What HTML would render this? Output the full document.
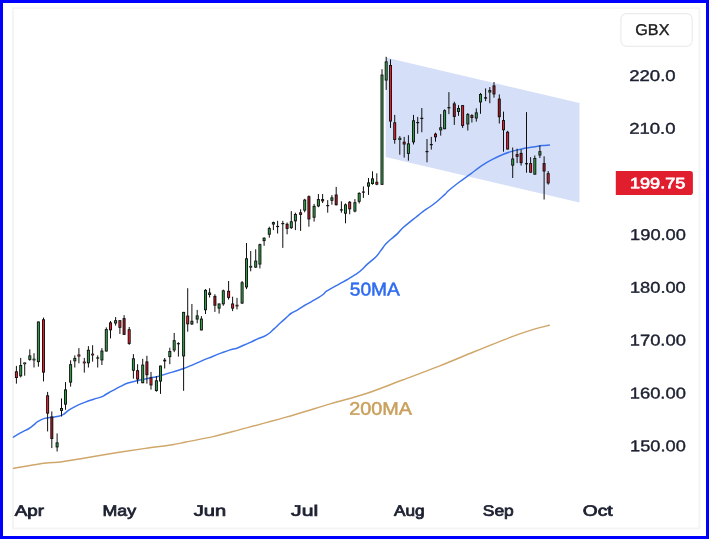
<!DOCTYPE html>
<html><head><meta charset="utf-8"><title>Chart</title>
<style>html,body{margin:0;padding:0;background:#fff;width:709px;height:539px;overflow:hidden;font-family:"Liberation Sans",sans-serif}</style></head>
<body>
<svg width="709" height="539" viewBox="0 0 709 539" style="display:block;position:absolute;left:0;top:0" font-family="Liberation Sans, sans-serif">
<rect x="0" y="0" width="709" height="539" fill="#ffffff"/>
<rect x="12.9" y="8.15" width="686.5" height="520.3" fill="none" stroke="#f4f4f4" stroke-width="1.9"/>
<polygon points="385.7,57.5 579.5,103.0 579.5,202.5 385.7,157" fill="#d5dff8"/>
<path d="M13.4,468.4 C18.5,467.5 36.0,464.4 43.9,463.3 C51.8,462.2 55.2,462.7 60.8,462.0 C66.4,461.3 69.2,460.6 77.7,459.2 C86.2,457.8 100.3,455.3 111.6,453.5 C122.9,451.7 135.2,449.9 145.4,448.4 C155.6,446.9 165.7,445.8 172.5,444.7 C179.3,443.6 179.2,443.4 186.0,442.0 C192.8,440.6 204.1,438.7 213.1,436.6 C222.1,434.5 228.0,432.8 240.0,429.6 C252.0,426.4 270.1,421.7 285.1,417.4 C300.2,413.1 316.8,407.9 330.3,403.9 C343.9,399.9 354.4,397.5 366.4,393.5 C378.4,389.5 390.5,384.5 402.5,380.0 C414.5,375.5 426.6,371.1 438.6,366.4 C450.6,361.6 462.7,356.4 474.7,351.5 C486.7,346.6 501.0,340.8 510.8,337.1 C520.6,333.4 527.0,331.4 533.4,329.4 C539.8,327.4 546.6,326.0 549.2,325.3" fill="none" stroke="#cfa76a" stroke-width="1.45" stroke-linejoin="round" stroke-linecap="round"/>
<path d="M13.4,437.1 C14.8,436.3 18.9,433.8 21.5,432.4 C24.1,431.0 27.0,429.7 29.0,428.5 C31.0,427.3 32.1,426.3 33.5,425.2 C34.9,424.1 35.8,422.8 37.6,421.7 C39.4,420.6 42.0,419.1 44.4,418.4 C46.8,417.6 49.6,417.5 52.0,417.2 C54.4,416.9 56.9,416.8 58.8,416.3 C60.7,415.8 61.9,415.4 63.5,414.4 C65.1,413.4 66.3,411.9 68.5,410.4 C70.7,408.9 74.1,407.0 76.9,405.6 C79.7,404.2 82.6,403.2 85.4,402.1 C88.2,401.0 91.1,400.1 93.8,399.2 C96.5,398.3 99.5,397.7 101.5,396.9 C103.5,396.1 103.9,395.5 105.7,394.5 C107.5,393.5 110.1,392.0 112.5,390.7 C114.9,389.4 117.4,388.0 120.0,386.7 C122.6,385.4 125.0,384.0 128.0,383.0 C131.0,382.0 134.7,381.3 138.0,380.5 C141.3,379.7 144.7,379.1 148.0,378.4 C151.3,377.7 154.7,377.2 158.0,376.4 C161.3,375.6 163.7,374.7 168.0,373.4 C172.3,372.1 178.1,370.6 183.6,368.5 C189.1,366.4 196.5,363.1 201.2,361.1 C205.9,359.1 208.6,358.1 212.0,356.7 C215.4,355.3 218.6,354.0 221.6,352.9 C224.6,351.8 227.5,350.7 230.0,349.9 C232.5,349.1 234.6,349.0 236.8,348.2 C239.1,347.4 241.2,346.3 243.5,345.3 C245.8,344.3 248.0,343.4 250.3,342.4 C252.6,341.4 254.8,340.1 257.1,339.1 C259.4,338.1 261.9,337.4 263.9,336.5 C265.9,335.6 267.2,334.8 268.9,333.5 C270.6,332.2 272.0,330.7 274.0,328.9 C276.0,327.1 278.5,324.6 280.8,322.5 C283.1,320.4 285.9,318.0 287.6,316.5 C289.3,315.0 289.2,314.6 290.9,313.5 C292.6,312.4 295.4,311.1 297.7,309.8 C300.0,308.5 302.2,306.8 304.5,305.5 C306.8,304.2 308.9,303.1 311.2,301.8 C313.4,300.5 316.0,299.1 318.0,297.9 C320.0,296.7 321.7,295.6 323.1,294.5 C324.5,293.4 324.5,292.6 326.5,291.2 C328.5,289.8 332.4,287.8 334.9,286.4 C337.4,285.0 339.4,284.0 341.7,282.7 C344.0,281.4 346.0,280.3 348.5,278.8 C351.0,277.3 354.6,275.2 356.9,273.7 C359.1,272.1 360.3,271.1 362.0,269.5 C363.7,267.9 364.9,266.4 367.1,264.4 C369.4,262.4 373.2,259.6 375.5,257.3 C377.8,255.1 378.9,253.1 380.6,250.9 C382.3,248.7 384.0,246.0 385.7,244.1 C387.4,242.2 388.8,241.1 390.8,239.3 C392.8,237.6 395.5,235.5 397.5,233.6 C399.5,231.7 400.6,229.9 402.6,228.0 C404.6,226.1 407.1,224.2 409.4,222.4 C411.7,220.6 413.9,218.8 416.2,217.0 C418.4,215.2 420.6,213.3 422.9,211.6 C425.1,209.9 427.3,208.7 429.7,207.0 C432.1,205.3 434.8,203.3 437.3,201.2 C439.8,199.1 443.0,196.1 444.9,194.4 C446.8,192.7 446.0,192.9 448.4,190.8 C450.8,188.7 455.7,184.8 459.4,182.0 C463.1,179.2 466.7,176.8 470.4,174.1 C474.1,171.4 477.7,168.2 481.4,165.8 C485.1,163.4 488.7,161.3 492.4,159.4 C496.1,157.5 500.0,155.6 503.4,154.2 C506.8,152.8 509.5,152.0 512.6,151.1 C515.7,150.2 518.4,149.6 521.8,148.9 C525.2,148.2 529.4,147.7 532.8,147.1 C536.2,146.5 539.2,145.9 542.0,145.6 C544.8,145.3 548.2,145.2 549.4,145.1" fill="none" stroke="#3b73ee" stroke-width="1.5" stroke-linejoin="round" stroke-linecap="round"/>
<rect x="15.9" y="365.9" width="1" height="17.7" fill="#101010"/><rect x="14.9" y="371.3" width="3" height="6.7" fill="#101010"/><rect x="15.78" y="372.2" width="1.24" height="4.9" fill="#e01e2d"/>
<rect x="20.2" y="357.9" width="1" height="19.5" fill="#101010"/><rect x="19.2" y="365.0" width="3" height="11.3" fill="#101010"/><rect x="20.08" y="365.9" width="1.24" height="9.5" fill="#2f9a45"/>
<rect x="24.2" y="362.5" width="1" height="13.2" fill="#101010"/><rect x="23.2" y="362.5" width="3" height="1.7" fill="#101010"/><rect x="24.2" y="362.9" width="1" height="0.9" fill="#2f9a45"/>
<rect x="29.3" y="349.3" width="1" height="11.5" fill="#101010"/><rect x="28.3" y="355.4" width="3" height="4.5" fill="#101010"/><rect x="29.18" y="356.3" width="1.24" height="2.7" fill="#2f9a45"/>
<rect x="33.5" y="353.2" width="1" height="14.3" fill="#101010"/><rect x="32.5" y="358.7" width="3" height="1.7" fill="#101010"/><rect x="33.5" y="359.1" width="1" height="0.9" fill="#2f9a45"/>
<rect x="37.9" y="321.5" width="1" height="45.2" fill="#101010"/><rect x="36.9" y="321.5" width="3" height="40.6" fill="#101010"/><rect x="37.78" y="322.4" width="1.24" height="38.8" fill="#2f9a45"/>
<rect x="43.0" y="317.6" width="1" height="63.8" fill="#101010"/><rect x="42.0" y="319.3" width="3" height="53.3" fill="#101010"/><rect x="42.88" y="320.2" width="1.24" height="51.5" fill="#e01e2d"/>
<rect x="47.1" y="391.9" width="1" height="39.5" fill="#101010"/><rect x="46.1" y="395.3" width="3" height="18.3" fill="#101010"/><rect x="46.98" y="396.2" width="1.24" height="16.5" fill="#e01e2d"/>
<rect x="51.3" y="411.4" width="1" height="36.7" fill="#101010"/><rect x="50.3" y="416.5" width="3" height="22.5" fill="#101010"/><rect x="51.18" y="417.4" width="1.24" height="20.7" fill="#a5161f"/>
<rect x="56.6" y="433.4" width="1" height="18.1" fill="#101010"/><rect x="55.6" y="442.4" width="3" height="5.0" fill="#101010"/><rect x="56.48" y="443.3" width="1.24" height="3.2" fill="#2f9a45"/>
<rect x="61.0" y="398.4" width="1" height="18.1" fill="#101010"/><rect x="60.0" y="408.0" width="3" height="2.9" fill="#101010"/><rect x="60.88" y="408.9" width="1.24" height="1.1" fill="#2f9a45"/>
<rect x="65.0" y="382.1" width="1" height="27.6" fill="#101010"/><rect x="64.0" y="389.4" width="3" height="15.2" fill="#101010"/><rect x="64.88" y="390.3" width="1.24" height="13.4" fill="#2f9a45"/>
<rect x="70.1" y="360.3" width="1" height="26.3" fill="#101010"/><rect x="69.1" y="364.2" width="3" height="18.4" fill="#101010"/><rect x="69.98" y="365.1" width="1.24" height="16.6" fill="#2f9a45"/>
<rect x="74.3" y="355.4" width="1" height="12.1" fill="#101010"/><rect x="73.3" y="357.9" width="3" height="3.4" fill="#101010"/><rect x="74.18" y="358.8" width="1.24" height="1.6" fill="#2f9a45"/>
<rect x="78.4" y="348.1" width="1" height="15.2" fill="#101010"/><rect x="77.4" y="354.5" width="3" height="2.0" fill="#101010"/><rect x="78.4" y="354.9" width="1" height="1.2" fill="#e01e2d"/>
<rect x="83.8" y="357.9" width="1" height="14.7" fill="#101010"/><rect x="82.8" y="361.6" width="3" height="1.7" fill="#101010"/><rect x="83.8" y="362.0" width="1" height="0.9" fill="#e01e2d"/>
<rect x="87.9" y="346.1" width="1" height="21.4" fill="#101010"/><rect x="86.9" y="349.8" width="3" height="13.5" fill="#101010"/><rect x="87.78" y="350.7" width="1.24" height="11.7" fill="#2f9a45"/>
<rect x="92.1" y="345.2" width="1" height="16.4" fill="#101010"/><rect x="91.1" y="353.7" width="3" height="1.7" fill="#101010"/><rect x="92.1" y="354.1" width="1" height="0.9" fill="#e01e2d"/>
<rect x="97.2" y="355.4" width="1" height="12.1" fill="#101010"/><rect x="96.2" y="357.4" width="3" height="1.2" fill="#101010"/>
<rect x="101.4" y="348.1" width="1" height="16.9" fill="#101010"/><rect x="100.4" y="350.6" width="3" height="9.8" fill="#101010"/><rect x="101.28" y="351.5" width="1.24" height="8.0" fill="#2f9a45"/>
<rect x="105.8" y="327.4" width="1" height="24.1" fill="#101010"/><rect x="104.8" y="329.1" width="3" height="22.4" fill="#101010"/><rect x="105.68" y="330.0" width="1.24" height="20.6" fill="#2f9a45"/>
<rect x="110.0" y="321.0" width="1" height="17.4" fill="#101010"/><rect x="109.0" y="322.4" width="3" height="7.9" fill="#101010"/><rect x="109.88" y="323.3" width="1.24" height="6.1" fill="#e01e2d"/>
<rect x="115.1" y="317.1" width="1" height="8.5" fill="#101010"/><rect x="114.1" y="320.2" width="3" height="3.3" fill="#101010"/><rect x="114.98" y="321.1" width="1.24" height="1.5" fill="#2f9a45"/>
<rect x="119.4" y="320.2" width="1" height="13.8" fill="#101010"/><rect x="118.4" y="320.2" width="3" height="7.6" fill="#101010"/><rect x="119.28" y="321.1" width="1.24" height="5.8" fill="#e01e2d"/>
<rect x="123.6" y="315.2" width="1" height="19.8" fill="#101010"/><rect x="122.6" y="318.1" width="3" height="16.7" fill="#101010"/><rect x="123.48" y="319.0" width="1.24" height="14.9" fill="#a5161f"/>
<rect x="128.7" y="327.0" width="1" height="17.8" fill="#101010"/><rect x="127.7" y="329.2" width="3" height="14.7" fill="#101010"/><rect x="128.58" y="330.1" width="1.24" height="12.9" fill="#e01e2d"/>
<rect x="132.9" y="354.1" width="1" height="24.5" fill="#101010"/><rect x="131.9" y="358.3" width="3" height="12.4" fill="#101010"/><rect x="132.78" y="359.2" width="1.24" height="10.6" fill="#2f9a45"/>
<rect x="137.1" y="364.2" width="1" height="19.5" fill="#101010"/><rect x="136.1" y="370.2" width="3" height="9.3" fill="#101010"/><rect x="136.98" y="371.1" width="1.24" height="7.5" fill="#e01e2d"/>
<rect x="142.2" y="358.8" width="1" height="24.4" fill="#101010"/><rect x="141.2" y="364.6" width="3" height="18.6" fill="#101010"/><rect x="142.08" y="365.5" width="1.24" height="16.8" fill="#2f9a45"/>
<rect x="146.4" y="355.8" width="1" height="27.9" fill="#101010"/><rect x="145.4" y="361.4" width="3" height="13.8" fill="#101010"/><rect x="146.28" y="362.3" width="1.24" height="12.0" fill="#a5161f"/>
<rect x="150.5" y="371.9" width="1" height="17.7" fill="#101010"/><rect x="149.5" y="377.4" width="3" height="8.0" fill="#101010"/><rect x="150.38" y="378.3" width="1.24" height="6.2" fill="#e01e2d"/>
<rect x="155.9" y="376.1" width="1" height="15.6" fill="#101010"/><rect x="154.9" y="380.3" width="3" height="10.7" fill="#101010"/><rect x="155.78" y="381.2" width="1.24" height="8.9" fill="#2f9a45"/>
<rect x="160.0" y="365.6" width="1" height="28.3" fill="#101010"/><rect x="159.0" y="365.6" width="3" height="15.9" fill="#101010"/><rect x="159.88" y="366.5" width="1.24" height="14.1" fill="#2f9a45"/>
<rect x="164.2" y="358.0" width="1" height="10.5" fill="#101010"/><rect x="163.2" y="359.7" width="3" height="1.7" fill="#101010"/>
<rect x="169.3" y="347.7" width="1" height="16.5" fill="#101010"/><rect x="168.3" y="351.0" width="3" height="6.1" fill="#101010"/><rect x="169.18" y="351.9" width="1.24" height="4.3" fill="#2f9a45"/>
<rect x="173.7" y="332.9" width="1" height="19.2" fill="#101010"/><rect x="172.7" y="340.2" width="3" height="10.2" fill="#101010"/><rect x="173.58" y="341.1" width="1.24" height="8.4" fill="#2f9a45"/>
<rect x="177.9" y="342.2" width="1" height="14.4" fill="#101010"/><rect x="176.9" y="343.1" width="3" height="1.2" fill="#101010"/>
<rect x="183.1" y="311.9" width="1" height="78.9" fill="#101010"/><rect x="182.1" y="311.9" width="3" height="44.5" fill="#101010"/><rect x="182.98" y="312.8" width="1.24" height="42.7" fill="#2f9a45"/>
<rect x="187.2" y="288.2" width="1" height="43.5" fill="#101010"/><rect x="186.2" y="315.6" width="3" height="8.7" fill="#101010"/><rect x="187.08" y="316.5" width="1.24" height="6.9" fill="#e01e2d"/>
<rect x="191.4" y="304.0" width="1" height="21.0" fill="#101010"/><rect x="190.4" y="320.8" width="3" height="3.6" fill="#101010"/><rect x="191.28" y="321.7" width="1.24" height="1.8" fill="#2f9a45"/>
<rect x="196.7" y="309.9" width="1" height="13.4" fill="#101010"/><rect x="195.7" y="315.4" width="3" height="4.1" fill="#101010"/><rect x="196.58" y="316.3" width="1.24" height="2.3" fill="#2f9a45"/>
<rect x="200.9" y="316.1" width="1" height="14.3" fill="#101010"/><rect x="199.9" y="318.6" width="3" height="11.8" fill="#101010"/><rect x="200.78" y="319.5" width="1.24" height="10.0" fill="#2f9a45"/>
<rect x="205.0" y="289.1" width="1" height="24.9" fill="#101010"/><rect x="204.0" y="289.9" width="3" height="20.3" fill="#101010"/><rect x="204.88" y="290.8" width="1.24" height="18.5" fill="#2f9a45"/>
<rect x="209.1" y="288.2" width="1" height="9.3" fill="#101010"/><rect x="208.1" y="292.5" width="3" height="2.5" fill="#101010"/><rect x="208.98" y="293.4" width="1.24" height="0.7" fill="#2f9a45"/>
<rect x="214.4" y="294.2" width="1" height="17.7" fill="#101010"/><rect x="213.4" y="295.9" width="3" height="9.8" fill="#101010"/><rect x="214.28" y="296.8" width="1.24" height="8.0" fill="#a5161f"/>
<rect x="218.6" y="303.5" width="1" height="10.1" fill="#101010"/><rect x="217.6" y="303.5" width="3" height="5.1" fill="#101010"/><rect x="218.48" y="304.4" width="1.24" height="3.3" fill="#2f9a45"/>
<rect x="222.8" y="289.6" width="1" height="16.1" fill="#101010"/><rect x="221.8" y="290.4" width="3" height="13.9" fill="#101010"/><rect x="222.68" y="291.3" width="1.24" height="12.1" fill="#2f9a45"/>
<rect x="228.1" y="281.0" width="1" height="18.6" fill="#101010"/><rect x="227.1" y="290.8" width="3" height="7.1" fill="#101010"/><rect x="227.98" y="291.7" width="1.24" height="5.3" fill="#e01e2d"/>
<rect x="232.1" y="296.7" width="1" height="14.4" fill="#101010"/><rect x="231.1" y="303.5" width="3" height="5.1" fill="#101010"/><rect x="231.98" y="304.4" width="1.24" height="3.3" fill="#e01e2d"/>
<rect x="236.5" y="297.9" width="1" height="11.5" fill="#101010"/><rect x="235.5" y="304.8" width="3" height="1.6" fill="#101010"/><rect x="236.5" y="305.2" width="1" height="0.8" fill="#e01e2d"/>
<rect x="241.6" y="281.0" width="1" height="23.0" fill="#101010"/><rect x="240.6" y="282.3" width="3" height="21.2" fill="#101010"/><rect x="241.48" y="283.2" width="1.24" height="19.4" fill="#2f9a45"/>
<rect x="246.0" y="243.0" width="1" height="46.1" fill="#101010"/><rect x="245.0" y="258.3" width="3" height="29.1" fill="#101010"/><rect x="245.88" y="259.2" width="1.24" height="27.3" fill="#2f9a45"/>
<rect x="250.2" y="251.0" width="1" height="20.3" fill="#101010"/><rect x="249.2" y="265.9" width="3" height="1.7" fill="#101010"/><rect x="250.2" y="266.3" width="1" height="0.9" fill="#2f9a45"/>
<rect x="255.2" y="249.3" width="1" height="18.6" fill="#101010"/><rect x="254.2" y="260.6" width="3" height="7.0" fill="#101010"/><rect x="255.08" y="261.5" width="1.24" height="5.2" fill="#2f9a45"/>
<rect x="259.4" y="243.7" width="1" height="24.7" fill="#101010"/><rect x="258.4" y="244.2" width="3" height="20.3" fill="#101010"/><rect x="259.28" y="245.1" width="1.24" height="18.5" fill="#2f9a45"/>
<rect x="263.6" y="237.4" width="1" height="8.4" fill="#101010"/><rect x="262.6" y="237.7" width="3" height="3.4" fill="#101010"/><rect x="263.48" y="238.6" width="1.24" height="1.6" fill="#2f9a45"/>
<rect x="268.8" y="226.7" width="1" height="11.0" fill="#101010"/><rect x="267.8" y="228.1" width="3" height="6.6" fill="#101010"/><rect x="268.68" y="229.0" width="1.24" height="4.8" fill="#2f9a45"/>
<rect x="272.9" y="221.6" width="1" height="8.5" fill="#101010"/><rect x="271.9" y="222.1" width="3" height="2.4" fill="#101010"/><rect x="272.78" y="223.0" width="1.24" height="0.6" fill="#2f9a45"/>
<rect x="277.1" y="220.8" width="1" height="12.7" fill="#101010"/><rect x="276.1" y="225.9" width="3" height="1.2" fill="#101010"/>
<rect x="282.3" y="220.8" width="1" height="27.1" fill="#101010"/><rect x="281.3" y="223.0" width="3" height="1.2" fill="#101010"/>
<rect x="286.6" y="222.5" width="1" height="11.8" fill="#101010"/><rect x="285.6" y="223.8" width="3" height="5.1" fill="#101010"/><rect x="286.48" y="224.7" width="1.24" height="3.3" fill="#a5161f"/>
<rect x="290.8" y="211.1" width="1" height="17.8" fill="#101010"/><rect x="289.8" y="221.3" width="3" height="6.8" fill="#101010"/><rect x="290.68" y="222.2" width="1.24" height="5.0" fill="#2f9a45"/>
<rect x="294.9" y="212.7" width="1" height="17.4" fill="#101010"/><rect x="293.9" y="214.0" width="3" height="7.3" fill="#101010"/><rect x="294.78" y="214.9" width="1.24" height="5.5" fill="#2f9a45"/>
<rect x="300.1" y="209.3" width="1" height="21.6" fill="#101010"/><rect x="299.1" y="212.3" width="3" height="2.6" fill="#101010"/><rect x="299.98" y="213.2" width="1.24" height="0.8" fill="#e01e2d"/>
<rect x="304.2" y="198.8" width="1" height="13.5" fill="#101010"/><rect x="303.2" y="199.6" width="3" height="11.0" fill="#101010"/><rect x="304.08" y="200.5" width="1.24" height="9.2" fill="#2f9a45"/>
<rect x="308.4" y="195.4" width="1" height="31.3" fill="#101010"/><rect x="307.4" y="196.2" width="3" height="23.2" fill="#101010"/><rect x="308.28" y="197.1" width="1.24" height="21.4" fill="#a5161f"/>
<rect x="313.6" y="203.9" width="1" height="17.7" fill="#101010"/><rect x="312.6" y="205.9" width="3" height="11.8" fill="#101010"/><rect x="313.48" y="206.8" width="1.24" height="10.0" fill="#2f9a45"/>
<rect x="317.9" y="194.0" width="1" height="13.2" fill="#101010"/><rect x="316.9" y="199.1" width="3" height="7.3" fill="#101010"/><rect x="317.78" y="200.0" width="1.24" height="5.5" fill="#2f9a45"/>
<rect x="322.1" y="194.0" width="1" height="9.0" fill="#101010"/><rect x="321.1" y="199.1" width="3" height="2.2" fill="#101010"/><rect x="321.98" y="200.0" width="1.24" height="0.4" fill="#e01e2d"/>
<rect x="327.2" y="200.1" width="1" height="12.6" fill="#101010"/><rect x="326.2" y="205.0" width="3" height="1.2" fill="#101010"/>
<rect x="331.4" y="195.1" width="1" height="9.6" fill="#101010"/><rect x="330.4" y="197.4" width="3" height="3.4" fill="#101010"/><rect x="331.28" y="198.3" width="1.24" height="1.6" fill="#2f9a45"/>
<rect x="335.7" y="186.9" width="1" height="18.6" fill="#101010"/><rect x="334.7" y="194.5" width="3" height="10.7" fill="#101010"/><rect x="335.58" y="195.4" width="1.24" height="8.9" fill="#a5161f"/>
<rect x="340.9" y="201.3" width="1" height="11.4" fill="#101010"/><rect x="339.9" y="209.3" width="3" height="1.2" fill="#101010"/>
<rect x="345.0" y="203.5" width="1" height="19.8" fill="#101010"/><rect x="344.0" y="204.4" width="3" height="9.3" fill="#101010"/><rect x="344.88" y="205.3" width="1.24" height="7.5" fill="#2f9a45"/>
<rect x="349.2" y="201.0" width="1" height="13.3" fill="#101010"/><rect x="348.2" y="201.8" width="3" height="7.5" fill="#101010"/><rect x="349.08" y="202.7" width="1.24" height="5.7" fill="#e01e2d"/>
<rect x="354.4" y="199.1" width="1" height="13.2" fill="#101010"/><rect x="353.4" y="202.2" width="3" height="9.3" fill="#101010"/><rect x="354.28" y="203.1" width="1.24" height="7.5" fill="#2f9a45"/>
<rect x="358.7" y="192.3" width="1" height="11.2" fill="#101010"/><rect x="357.7" y="192.9" width="3" height="8.9" fill="#101010"/><rect x="358.58" y="193.8" width="1.24" height="7.1" fill="#2f9a45"/>
<rect x="362.9" y="186.4" width="1" height="11.5" fill="#101010"/><rect x="361.9" y="191.5" width="3" height="1.2" fill="#101010"/>
<rect x="368.0" y="178.0" width="1" height="16.9" fill="#101010"/><rect x="367.0" y="182.4" width="3" height="4.2" fill="#101010"/><rect x="367.88" y="183.3" width="1.24" height="2.4" fill="#2f9a45"/>
<rect x="372.0" y="171.3" width="1" height="13.4" fill="#101010"/><rect x="371.0" y="178.4" width="3" height="5.6" fill="#101010"/><rect x="371.88" y="179.3" width="1.24" height="3.8" fill="#2f9a45"/>
<rect x="376.3" y="173.3" width="1" height="11.9" fill="#101010"/><rect x="375.3" y="181.8" width="3" height="2.9" fill="#101010"/><rect x="376.18" y="182.7" width="1.24" height="1.1" fill="#e01e2d"/>
<rect x="381.5" y="69.2" width="1" height="115.6" fill="#101010"/><rect x="380.5" y="74.6" width="3" height="110.2" fill="#101010"/><rect x="381.38" y="75.5" width="1.24" height="108.4" fill="#2f9a45"/>
<rect x="385.7" y="56.8" width="1" height="33.1" fill="#101010"/><rect x="384.7" y="61.4" width="3" height="19.1" fill="#101010"/><rect x="385.58" y="62.3" width="1.24" height="17.3" fill="#2f9a45"/>
<rect x="390.0" y="59.4" width="1" height="68.5" fill="#101010"/><rect x="389.0" y="65.0" width="3" height="56.5" fill="#101010"/><rect x="389.88" y="65.9" width="1.24" height="54.7" fill="#e01e2d"/>
<rect x="394.2" y="114.9" width="1" height="28.8" fill="#101010"/><rect x="393.2" y="122.3" width="3" height="17.7" fill="#101010"/><rect x="394.08" y="123.2" width="1.24" height="15.9" fill="#e01e2d"/>
<rect x="399.3" y="136.1" width="1" height="18.6" fill="#101010"/><rect x="398.3" y="137.8" width="3" height="2.2" fill="#101010"/><rect x="399.3" y="138.2" width="1" height="1.4" fill="#2f9a45"/>
<rect x="403.7" y="136.9" width="1" height="20.7" fill="#101010"/><rect x="402.7" y="141.7" width="3" height="2.8" fill="#101010"/><rect x="403.58" y="142.6" width="1.24" height="1.0" fill="#e01e2d"/>
<rect x="407.9" y="135.2" width="1" height="25.4" fill="#101010"/><rect x="406.9" y="143.4" width="3" height="10.5" fill="#101010"/><rect x="407.78" y="144.3" width="1.24" height="8.7" fill="#2f9a45"/>
<rect x="413.0" y="114.9" width="1" height="29.6" fill="#101010"/><rect x="412.0" y="120.3" width="3" height="22.0" fill="#101010"/><rect x="412.88" y="121.2" width="1.24" height="20.2" fill="#2f9a45"/>
<rect x="417.2" y="116.9" width="1" height="16.8" fill="#101010"/><rect x="416.2" y="122.0" width="3" height="1.2" fill="#101010"/>
<rect x="421.3" y="108.0" width="1" height="24.2" fill="#101010"/><rect x="420.3" y="117.8" width="3" height="1.2" fill="#101010"/>
<rect x="426.5" y="139.0" width="1" height="23.3" fill="#101010"/><rect x="425.5" y="151.0" width="3" height="1.2" fill="#101010"/>
<rect x="430.8" y="136.9" width="1" height="12.7" fill="#101010"/><rect x="429.8" y="144.0" width="3" height="1.2" fill="#101010"/>
<rect x="435.0" y="132.7" width="1" height="9.0" fill="#101010"/><rect x="434.0" y="133.7" width="3" height="3.6" fill="#101010"/><rect x="434.88" y="134.6" width="1.24" height="1.8" fill="#e01e2d"/>
<rect x="440.2" y="114.1" width="1" height="21.5" fill="#101010"/><rect x="439.2" y="127.3" width="3" height="3.1" fill="#101010"/><rect x="440.08" y="128.2" width="1.24" height="1.3" fill="#2f9a45"/>
<rect x="444.1" y="109.3" width="1" height="19.9" fill="#101010"/><rect x="443.1" y="110.2" width="3" height="19.0" fill="#101010"/><rect x="443.98" y="111.1" width="1.24" height="17.2" fill="#2f9a45"/>
<rect x="448.4" y="92.1" width="1" height="22.0" fill="#101010"/><rect x="447.4" y="107.1" width="3" height="1.2" fill="#101010"/>
<rect x="453.8" y="101.7" width="1" height="23.2" fill="#101010"/><rect x="452.8" y="103.4" width="3" height="13.5" fill="#101010"/><rect x="453.68" y="104.3" width="1.24" height="11.7" fill="#a5161f"/>
<rect x="458.0" y="105.1" width="1" height="10.7" fill="#101010"/><rect x="457.0" y="108.0" width="3" height="3.9" fill="#101010"/><rect x="457.88" y="108.9" width="1.24" height="2.1" fill="#2f9a45"/>
<rect x="462.1" y="105.1" width="1" height="22.8" fill="#101010"/><rect x="461.1" y="105.1" width="3" height="20.8" fill="#101010"/><rect x="461.98" y="106.0" width="1.24" height="19.0" fill="#e01e2d"/>
<rect x="467.3" y="113.0" width="1" height="17.5" fill="#101010"/><rect x="466.3" y="114.1" width="3" height="10.3" fill="#101010"/><rect x="467.18" y="115.0" width="1.24" height="8.5" fill="#2f9a45"/>
<rect x="471.4" y="114.2" width="1" height="8.3" fill="#101010"/><rect x="470.4" y="115.1" width="3" height="2.9" fill="#101010"/><rect x="471.28" y="116.0" width="1.24" height="1.1" fill="#e01e2d"/>
<rect x="475.8" y="108.4" width="1" height="13.2" fill="#101010"/><rect x="474.8" y="112.4" width="3" height="6.1" fill="#101010"/><rect x="475.68" y="113.3" width="1.24" height="4.3" fill="#2f9a45"/>
<rect x="480.0" y="93.0" width="1" height="20.8" fill="#101010"/><rect x="479.0" y="94.0" width="3" height="8.4" fill="#101010"/><rect x="479.88" y="94.9" width="1.24" height="6.6" fill="#2f9a45"/>
<rect x="485.1" y="88.4" width="1" height="12.7" fill="#101010"/><rect x="484.1" y="97.2" width="3" height="1.4" fill="#101010"/>
<rect x="489.3" y="87.1" width="1" height="16.1" fill="#101010"/><rect x="488.3" y="90.1" width="3" height="2.4" fill="#101010"/><rect x="489.18" y="91.0" width="1.24" height="0.6" fill="#2f9a45"/>
<rect x="493.5" y="82.0" width="1" height="15.6" fill="#101010"/><rect x="492.5" y="85.4" width="3" height="9.0" fill="#101010"/><rect x="493.38" y="86.3" width="1.24" height="7.2" fill="#a5161f"/>
<rect x="498.8" y="94.4" width="1" height="29.1" fill="#101010"/><rect x="497.8" y="98.6" width="3" height="18.6" fill="#101010"/><rect x="498.68" y="99.5" width="1.24" height="16.8" fill="#a5161f"/>
<rect x="503.0" y="111.6" width="1" height="40.1" fill="#101010"/><rect x="502.0" y="120.1" width="3" height="10.1" fill="#101010"/><rect x="502.88" y="121.0" width="1.24" height="8.3" fill="#e01e2d"/>
<rect x="507.1" y="130.8" width="1" height="18.7" fill="#101010"/><rect x="506.1" y="131.8" width="3" height="17.7" fill="#101010"/><rect x="506.98" y="132.7" width="1.24" height="15.9" fill="#e01e2d"/>
<rect x="512.2" y="147.5" width="1" height="30.5" fill="#101010"/><rect x="511.2" y="158.5" width="3" height="7.1" fill="#101010"/><rect x="512.08" y="159.4" width="1.24" height="5.3" fill="#2f9a45"/>
<rect x="516.6" y="148.7" width="1" height="14.4" fill="#101010"/><rect x="515.6" y="154.1" width="3" height="2.7" fill="#101010"/><rect x="516.48" y="155.0" width="1.24" height="0.9" fill="#e01e2d"/>
<rect x="520.6" y="149.5" width="1" height="16.1" fill="#101010"/><rect x="519.6" y="152.9" width="3" height="10.2" fill="#101010"/><rect x="520.48" y="153.8" width="1.24" height="8.4" fill="#a5161f"/>
<rect x="526.0" y="112.1" width="1" height="60.6" fill="#101010"/><rect x="525.0" y="163.1" width="3" height="1.2" fill="#101010"/>
<rect x="530.1" y="157.2" width="1" height="15.5" fill="#101010"/><rect x="529.1" y="163.1" width="3" height="9.6" fill="#101010"/><rect x="529.98" y="164.0" width="1.24" height="7.8" fill="#e01e2d"/>
<rect x="534.3" y="155.5" width="1" height="19.1" fill="#101010"/><rect x="533.3" y="158.0" width="3" height="16.6" fill="#101010"/><rect x="534.18" y="158.9" width="1.24" height="14.8" fill="#2f9a45"/>
<rect x="539.4" y="145.3" width="1" height="12.7" fill="#101010"/><rect x="538.4" y="151.2" width="3" height="4.3" fill="#101010"/><rect x="539.28" y="152.1" width="1.24" height="2.5" fill="#2f9a45"/>
<rect x="543.6" y="156.3" width="1" height="43.2" fill="#101010"/><rect x="542.6" y="163.1" width="3" height="8.4" fill="#101010"/><rect x="543.48" y="164.0" width="1.24" height="6.6" fill="#a5161f"/>
<rect x="547.7" y="171.0" width="1" height="13.6" fill="#101010"/><rect x="546.7" y="173.2" width="3" height="10.2" fill="#101010"/><rect x="547.58" y="174.1" width="1.24" height="8.4" fill="#e01e2d"/>
<g style="will-change:transform">
<text text-rendering="geometricPrecision" transform="translate(349.75,295.60) matrix(1 0.0006 0 1 0 0)" font-size="18.50" font-weight="normal" fill="#2f6bf0" stroke="#2f6bf0" stroke-width="0.5" textLength="50.17" lengthAdjust="spacingAndGlyphs">50MA</text>
<text text-rendering="geometricPrecision" transform="translate(349.29,414.75) matrix(1 0.0006 0 1 0 0)" font-size="18.30" font-weight="normal" fill="#c9a05c" stroke="#c9a05c" stroke-width="0.5" textLength="62.82" lengthAdjust="spacingAndGlyphs">200MA</text>
<rect x="620.9" y="13.6" width="71.3" height="32.7" rx="5.5" ry="5.5" fill="#fff" stroke="#ececec" stroke-width="1.2"/>
<text text-rendering="geometricPrecision" transform="translate(635.31,35.00) matrix(1 0.0006 0 1 0 0)" font-size="15.70" font-weight="normal" fill="#1a1a1a" stroke="#1a1a1a" stroke-width="0.35" textLength="34.11" lengthAdjust="spacingAndGlyphs">GBX</text>
<text text-rendering="geometricPrecision" transform="translate(629.17,81.00) matrix(1 0.0006 0 1 0 0)" font-size="15.60" font-weight="normal" fill="#1c2030" stroke="#1c2030" stroke-width="0.4" textLength="46.46" lengthAdjust="spacingAndGlyphs">220.0</text>
<text text-rendering="geometricPrecision" transform="translate(629.19,133.80) matrix(1 0.0006 0 1 0 0)" font-size="15.60" font-weight="normal" fill="#1c2030" stroke="#1c2030" stroke-width="0.4" textLength="46.40" lengthAdjust="spacingAndGlyphs">210.0</text>
<text text-rendering="geometricPrecision" transform="translate(630.09,239.90) matrix(1 0.0006 0 1 0 0)" font-size="15.60" font-weight="normal" fill="#1c2030" stroke="#1c2030" stroke-width="0.4" textLength="55.83" lengthAdjust="spacingAndGlyphs">190.00</text>
<text text-rendering="geometricPrecision" transform="translate(629.97,292.80) matrix(1 0.0006 0 1 0 0)" font-size="15.60" font-weight="normal" fill="#1c2030" stroke="#1c2030" stroke-width="0.4" textLength="55.80" lengthAdjust="spacingAndGlyphs">180.00</text>
<text text-rendering="geometricPrecision" transform="translate(629.73,345.40) matrix(1 0.0006 0 1 0 0)" font-size="15.60" font-weight="normal" fill="#1c2030" stroke="#1c2030" stroke-width="0.4" textLength="56.12" lengthAdjust="spacingAndGlyphs">170.00</text>
<text text-rendering="geometricPrecision" transform="translate(629.73,398.40) matrix(1 0.0006 0 1 0 0)" font-size="15.60" font-weight="normal" fill="#1c2030" stroke="#1c2030" stroke-width="0.4" textLength="56.12" lengthAdjust="spacingAndGlyphs">160.00</text>
<text text-rendering="geometricPrecision" transform="translate(630.10,451.20) matrix(1 0.0006 0 1 0 0)" font-size="15.60" font-weight="normal" fill="#1c2030" stroke="#1c2030" stroke-width="0.4" textLength="55.67" lengthAdjust="spacingAndGlyphs">150.00</text>
<path d="M615.8,171.1 H690.1 a2.8,2.8 0 0 1 2.8,2.8 V192.2 a2.8,2.8 0 0 1 -2.8,2.8 H615.8 Z" fill="#e01e2d"/>
<text text-rendering="geometricPrecision" transform="translate(629.93,188.30) matrix(1 0.0006 0 1 0 0)" font-size="15.00" font-weight="normal" fill="#ffffff" stroke="#ffffff" stroke-width="0.7" textLength="55.37" lengthAdjust="spacingAndGlyphs">199.75</text>
<text text-rendering="geometricPrecision" transform="translate(14.71,515.75) matrix(1 0.0006 0 1 0 0)" font-size="15.00" font-weight="normal" fill="#1c2030" stroke="#1c2030" stroke-width="0.75" textLength="29.31" lengthAdjust="spacingAndGlyphs">Apr</text>
<text text-rendering="geometricPrecision" transform="translate(102.38,515.75) matrix(1 0.0006 0 1 0 0)" font-size="15.00" font-weight="normal" fill="#1c2030" stroke="#1c2030" stroke-width="0.75" textLength="33.68" lengthAdjust="spacingAndGlyphs">May</text>
<text text-rendering="geometricPrecision" transform="translate(193.75,515.75) matrix(1 0.0006 0 1 0 0)" font-size="15.00" font-weight="normal" fill="#1c2030" stroke="#1c2030" stroke-width="0.75" textLength="32.33" lengthAdjust="spacingAndGlyphs">Jun</text>
<text text-rendering="geometricPrecision" transform="translate(291.10,515.75) matrix(1 0.0006 0 1 0 0)" font-size="15.00" font-weight="normal" fill="#1c2030" stroke="#1c2030" stroke-width="0.75" textLength="27.08" lengthAdjust="spacingAndGlyphs">Jul</text>
<text text-rendering="geometricPrecision" transform="translate(394.03,515.75) matrix(1 0.0006 0 1 0 0)" font-size="15.00" font-weight="normal" fill="#1c2030" stroke="#1c2030" stroke-width="0.75" textLength="30.61" lengthAdjust="spacingAndGlyphs">Aug</text>
<text text-rendering="geometricPrecision" transform="translate(482.78,515.75) matrix(1 0.0006 0 1 0 0)" font-size="15.00" font-weight="normal" fill="#1c2030" stroke="#1c2030" stroke-width="0.75" textLength="31.05" lengthAdjust="spacingAndGlyphs">Sep</text>
<text text-rendering="geometricPrecision" transform="translate(582.80,515.75) matrix(1 0.0006 0 1 0 0)" font-size="15.00" font-weight="normal" fill="#1c2030" stroke="#1c2030" stroke-width="0.75" textLength="29.78" lengthAdjust="spacingAndGlyphs">Oct</text>
</g>
<rect x="1.5" y="1.5" width="706" height="536" fill="none" stroke="#0000ff" stroke-width="3"/>
</svg>
</body></html>
